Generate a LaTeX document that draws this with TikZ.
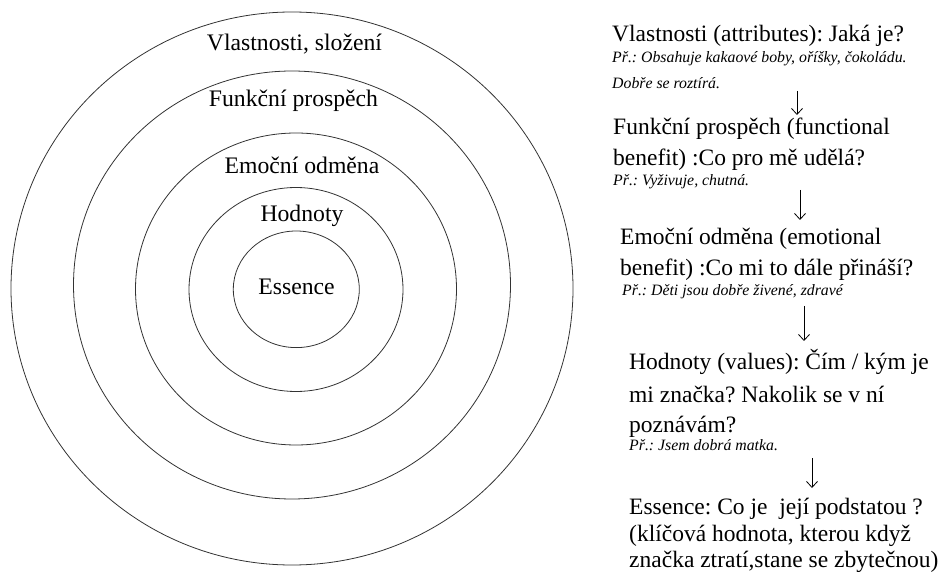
\documentclass[tikz,border=0pt]{standalone}
\usepackage{fontspec}
\setmainfont{Liberation Serif}
\usetikzlibrary{arrows.meta}
\frenchspacing
\begin{document}
\begin{tikzpicture}[x=1pt,y=-1pt,
  ring/.style={draw=black!80,line width=0.8pt},
  ringlabel/.style={anchor=base,inner sep=0pt,font=\fontsize{23.7}{26}\selectfont},
  mainline/.style={anchor=base west,inner sep=0pt,font=\fontsize{23.5}{26}\selectfont},
  exline/.style={anchor=base west,inner sep=0pt,font=\fontsize{15.8}{18}\selectfont\itshape},
  downarrow/.style={draw=black,line width=0.8pt,-{Straight Barb[length=6pt,width=11pt,line width=0.8pt]}}]
\useasboundingbox (0,0) rectangle (946,572);
% rings
\draw[ring] (292,288.5) ellipse [x radius=281, y radius=276.5];
\draw[ring] (292,285) ellipse [x radius=218.5, y radius=214];
\draw[ring] (296,289) ellipse [x radius=160.5, y radius=156];
\draw[ring] (296,289.5) ellipse [x radius=107, y radius=102];
\draw[ring] (296.3,289.3) ellipse [x radius=63, y radius=58.3];
% ring labels
\node[ringlabel] (r1) at (294.5,51) {Vlastnosti, složení};
\node[ringlabel] (r2) at (293.5,107) {Funkční prospěch};
\node[ringlabel] (r3) at (302,174) {Emoční odměna};
\node[ringlabel] (r4) at (302,222) {Hodnoty};
\node[ringlabel] (r5) at (296.5,295) {Essence};
% right column
\node[mainline] (l1) at (612,42) {Vlastnosti (attributes): Jaká je?};
\node[exline] (e1a) at (612,63) {Př.: Obsahuje kakaové boby, oříšky, čokoládu.};
\node[exline] (e1b) at (612,89) {Dobře se roztírá.};
\node[mainline] (l2a) at (613,135) {Funkční prospěch (functional};
\node[mainline] (l2b) at (613,166) {benefit) :Co pro mě udělá?};
\node[exline] (e2) at (613,186) {Př.: Vyživuje, chutná.};
\node[mainline] (l3a) at (620,245) {Emoční odměna (emotional};
\node[mainline] (l3b) at (620,276) {benefit) :Co mi to dále přináší?};
\node[exline] (e3) at (622,296) {Př.: Děti jsou dobře živené, zdravé};
\node[mainline] (l4a) at (629,370) {Hodnoty (values): Čím / kým je};
\node[mainline] (l4b) at (629,402) {mi značka? Nakolik se v ní};
\node[mainline] (l4c) at (629,432) {poznávám?};
\node[exline] (e4) at (629,450) {Př.: Jsem dobrá matka.};
\node[mainline] (l5a) at (629,514) {Essence: Co je~ její podstatou ?};
\node[mainline] (l5b) at (629,541) {(klíčová hodnota, kterou když};
\node[mainline] (l5c) at (629,567) {značka ztratí,stane se zbytečnou)};
% arrows
\coordinate (a1s) at (797,91);  \coordinate (a1e) at (797,115);
\coordinate (a2s) at (800,190); \coordinate (a2e) at (800,220);
\coordinate (a3s) at (804,306); \coordinate (a3e) at (804,341);
\coordinate (a4s) at (812,458); \coordinate (a4e) at (812,488);
\draw[downarrow] (a1s) -- (a1e);
\draw[downarrow] (a2s) -- (a2e);
\draw[downarrow] (a3s) -- (a3e);
\draw[downarrow] (a4s) -- (a4e);
\end{tikzpicture}
\end{document}
